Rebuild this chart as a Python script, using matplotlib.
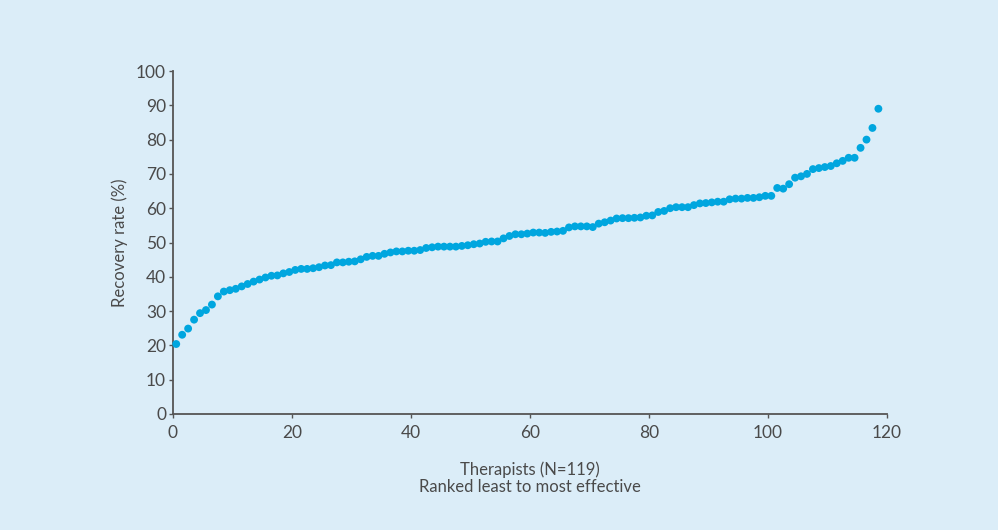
import matplotlib

matplotlib.use("Agg")
import matplotlib.pyplot as plt
import numpy as np

# therapists ranked least -> most effective, recovery rate (%)
rank = np.arange(1, 120)
recovery = [
    20.4, 23.1, 24.9, 27.5, 29.4, 30.3, 31.9, 34.3, 35.7, 36.1,
    36.5, 37.2, 37.9, 38.6, 39.2, 39.8, 40.3, 40.4, 41.0, 41.4,
    42.0, 42.3, 42.3, 42.5, 42.8, 43.3, 43.4, 44.2, 44.2, 44.4,
    44.5, 45.1, 45.8, 46.1, 46.1, 46.7, 47.1, 47.4, 47.4, 47.6,
    47.6, 47.8, 48.4, 48.6, 48.8, 48.8, 48.8, 48.8, 49.0, 49.2,
    49.5, 49.7, 50.2, 50.3, 50.3, 51.2, 51.9, 52.4, 52.4, 52.6,
    52.9, 52.9, 52.8, 53.1, 53.2, 53.4, 54.4, 54.7, 54.7, 54.7,
    54.5, 55.5, 55.9, 56.4, 57.0, 57.1, 57.1, 57.2, 57.3, 57.8,
    57.9, 58.9, 59.2, 60.0, 60.3, 60.3, 60.3, 60.9, 61.4, 61.5,
    61.7, 61.9, 61.9, 62.6, 62.8, 62.8, 63.0, 63.0, 63.2, 63.6,
    63.6, 65.9, 65.7, 67.0, 68.9, 69.3, 70.0, 71.4, 71.7, 72.0,
    72.3, 73.1, 73.8, 74.7, 74.7, 77.6, 80.0, 83.4, 89.0,
]
xticks = [0, 20, 40, 60, 80, 100, 120]
yticks = [0, 10, 20, 30, 40, 50, 60, 70, 80, 90, 100]

BG = "#dbedf8"
DOT = "#00a6df"
GREY = "#555555"
TXT = "#4a4a4a"

plt.rcParams["font.family"] = ["Lato", "DejaVu Sans"]

fig = plt.figure(figsize=(9.98, 5.30), dpi=100, facecolor=BG)
ax = fig.add_axes([0.1733, 0.2189, 0.7155, 0.6471], facecolor=BG)

ax.scatter(rank - 0.45, recovery, s=32, color=DOT, edgecolors="none",
           clip_on=False, zorder=3)

ax.set_xlim(0, 120)
ax.set_ylim(0, 100)
ax.set_xticks(xticks)
ax.set_yticks(yticks)
for side in ("top", "right"):
    ax.spines[side].set_visible(False)
for side in ("left", "bottom"):
    ax.spines[side].set_color(GREY)
    ax.spines[side].set_linewidth(1.3)
ax.tick_params(color=GREY, labelcolor=TXT, labelsize=12.5, length=3,
               width=1, pad=2)
ax.tick_params(axis="x", pad=5)

ax.set_ylabel("Recovery rate (%)", fontsize=12, color=TXT, labelpad=6)
ax.set_xlabel("Therapists (N=119)\nRanked least to most effective",
              fontsize=12, color=TXT, labelpad=15, linespacing=1.05)

fig.savefig("out.png", dpi=100, facecolor=BG)
